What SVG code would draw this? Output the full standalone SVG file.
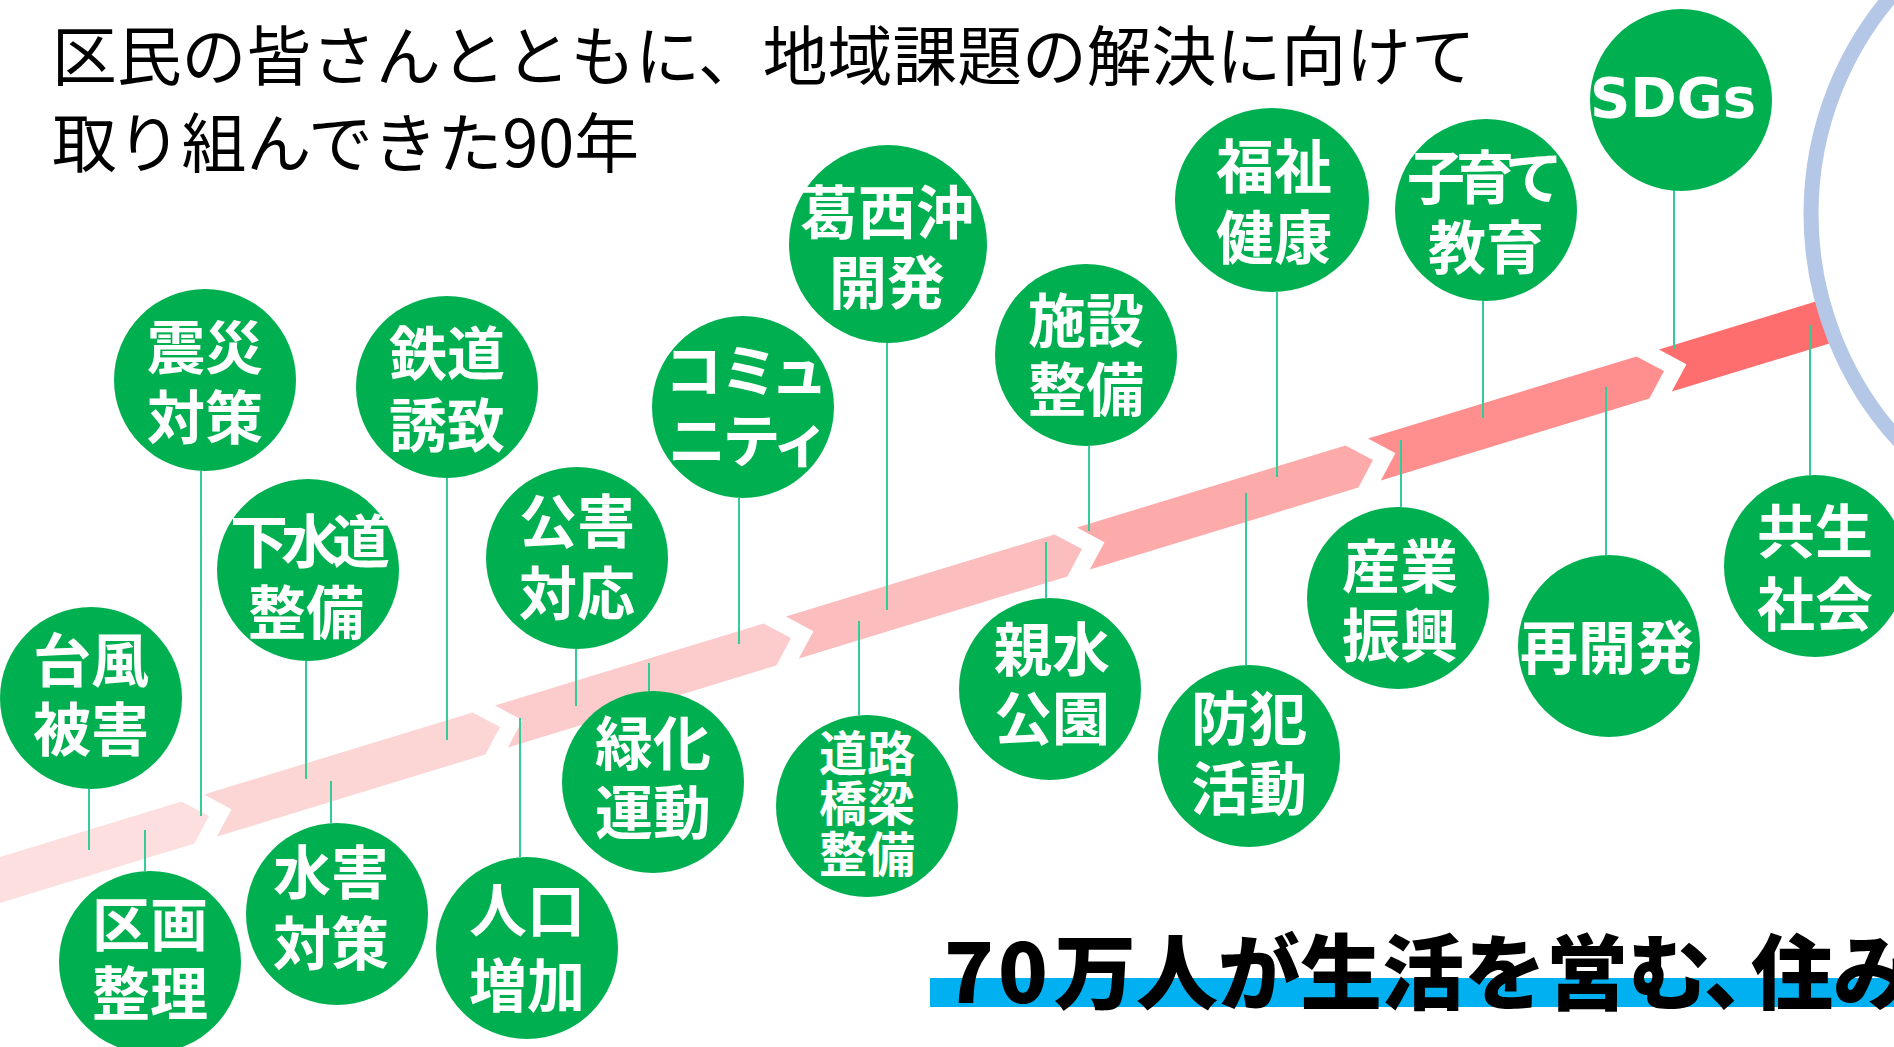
<svg xmlns="http://www.w3.org/2000/svg" width="1894" height="1047" viewBox="0 0 1894 1047">
<style>
.title{font-family:"Noto Sans CJK JP","Noto Sans CJK SC",sans-serif;font-size:64.8px;font-weight:400;fill:#000}
.node circle,.node ellipse{fill:#00B050}
.lbl{font-family:"Noto Sans CJK JP","Noto Sans CJK SC",sans-serif;font-size:58px;font-weight:700;fill:#fff;text-anchor:middle}
.lbl3{font-size:48px}
.lat{font-family:"DejaVu Sans","Verdana",sans-serif;font-size:56px;font-weight:700;fill:#fff;text-anchor:middle}
.con line{stroke:#33CC99;stroke-width:2}
.big{font-family:"Noto Sans CJK JP","Noto Sans CJK SC",sans-serif;font-size:82px;font-weight:900;fill:#000}
</style>
<rect width="1894" height="1047" fill="#fff"/>
<g id="timeline-arrow" transform="translate(209 816) rotate(-17.006)">
<polygon fill="#FDDFDF" points="-260,-22 -22,-22 0,0 -22,22 -260,22"/>
<polygon fill="#FCD5D5" points="1.5,-22 282.3,-22 304.3,0 282.3,22 1.5,22 23.5,0"/>
<polygon fill="#FCCCCC" points="305.8,-22 586.6,-22 608.6,0 586.6,22 305.8,22 327.8,0"/>
<polygon fill="#FBBDBD" points="610.1,-22 890.9,-22 912.9,0 890.9,22 610.1,22 632.1,0"/>
<polygon fill="#FDAAAA" points="914.4,-22 1195.2,-22 1217.2,0 1195.2,22 914.4,22 936.4,0"/>
<polygon fill="#FF8F8F" points="1218.7,-22 1499.5,-22 1521.5,0 1499.5,22 1218.7,22 1240.7,0"/>
<polygon fill="#FF6E6E" points="1523,-22 1760,-22 1760,22 1523,22 1545,0"/>
</g>
<g id="goal-circle"><circle cx="2147" cy="214" r="336" fill="#fff" stroke="#B4C7E7" stroke-width="15"/></g>
<g id="connectors" class="con">
<line x1="89" y1="789" x2="89" y2="850"/>
<line x1="145" y1="830" x2="145" y2="871"/>
<line x1="201" y1="471" x2="201" y2="816"/>
<line x1="306" y1="661" x2="306" y2="779"/>
<line x1="331" y1="781" x2="331" y2="823"/>
<line x1="447" y1="478" x2="447" y2="740"/>
<line x1="520" y1="718" x2="520" y2="857"/>
<line x1="576" y1="649" x2="576" y2="706"/>
<line x1="649" y1="663" x2="649" y2="692"/>
<line x1="739" y1="498" x2="739" y2="644"/>
<line x1="887" y1="343" x2="887" y2="610"/>
<line x1="859" y1="621" x2="859" y2="715"/>
<line x1="1089" y1="446" x2="1089" y2="531"/>
<line x1="1046" y1="542" x2="1046" y2="598"/>
<line x1="1277" y1="292" x2="1277" y2="477"/>
<line x1="1246" y1="493" x2="1246" y2="665"/>
<line x1="1483" y1="300" x2="1483" y2="418"/>
<line x1="1401" y1="440" x2="1401" y2="507"/>
<line x1="1674" y1="190" x2="1674" y2="349"/>
<line x1="1606" y1="387" x2="1606" y2="555"/>
<line x1="1810" y1="325" x2="1810" y2="475"/>
</g>
<g id="n-taifu" class="node"><circle cx="91" cy="698" r="91"/><text class="lbl"><tspan x="91" y="682">台風</tspan><tspan x="91" y="751">被害</tspan></text></g>
<g id="n-kukaku" class="node"><circle cx="150" cy="962" r="91"/><text class="lbl"><tspan x="150" y="946">区画</tspan><tspan x="150" y="1015">整理</tspan></text></g>
<g id="n-shinsai" class="node"><circle cx="205" cy="380" r="91"/><text class="lbl"><tspan x="205" y="369">震災</tspan><tspan x="205" y="439">対策</tspan></text></g>
<g id="n-gesuido" class="node"><circle cx="308" cy="570" r="91"/><text class="lbl"><tspan x="310" y="563" textLength="160" lengthAdjust="spacing">下水道</tspan><tspan x="306" y="634">整備</tspan></text></g>
<g id="n-suigai" class="node"><circle cx="337" cy="914" r="91"/><text class="lbl"><tspan x="331" y="894">水害</tspan><tspan x="331" y="965">対策</tspan></text></g>
<g id="n-tetsudo" class="node"><circle cx="447" cy="387" r="91"/><text class="lbl"><tspan x="447" y="375">鉄道</tspan><tspan x="447" y="447">誘致</tspan></text></g>
<g id="n-jinko" class="node"><circle cx="527" cy="948" r="91"/><text class="lbl"><tspan x="527" y="932">人口</tspan><tspan x="527" y="1007">増加</tspan></text></g>
<g id="n-kogai" class="node"><circle cx="577" cy="558" r="91"/><text class="lbl"><tspan x="577" y="543">公害</tspan><tspan x="577" y="615">対応</tspan></text></g>
<g id="n-ryokuka" class="node"><circle cx="653" cy="782" r="91"/><text class="lbl"><tspan x="653" y="765">緑化</tspan><tspan x="653" y="834">運動</tspan></text></g>
<g id="n-community" class="node"><circle cx="743" cy="407" r="91"/><text class="lbl" style="font-feature-settings:'palt'"><tspan x="745" y="392">コミュ</tspan><tspan x="745" y="462">ニティ</tspan></text></g>
<g id="n-kasaioki" class="node"><circle cx="888" cy="244" r="99"/><text class="lbl"><tspan x="887" y="234">葛西沖</tspan><tspan x="887" y="304">開発</tspan></text></g>
<g id="n-doro" class="node"><circle cx="867" cy="806" r="91"/><text class="lbl lbl3"><tspan x="867" y="771">道路</tspan><tspan x="867" y="821">橋梁</tspan><tspan x="867" y="872">整備</tspan></text></g>
<g id="n-shisetsu" class="node"><circle cx="1086" cy="355" r="91"/><text class="lbl"><tspan x="1086" y="342">施設</tspan><tspan x="1086" y="411">整備</tspan></text></g>
<g id="n-shinsui" class="node"><circle cx="1050" cy="689" r="91"/><text class="lbl"><tspan x="1052" y="671">親水</tspan><tspan x="1052" y="740">公園</tspan></text></g>
<g id="n-fukushi" class="node"><ellipse cx="1272" cy="200" rx="97" ry="92"/><text class="lbl"><tspan x="1274" y="188">福祉</tspan><tspan x="1274" y="259">健康</tspan></text></g>
<g id="n-bohan" class="node"><circle cx="1249" cy="756" r="91"/><text class="lbl"><tspan x="1249" y="740">防犯</tspan><tspan x="1249" y="810">活動</tspan></text></g>
<g id="n-kosodate" class="node"><circle cx="1486" cy="210" r="91"/><text class="lbl"><tspan x="1485" y="199" textLength="156" lengthAdjust="spacing">子育て</tspan><tspan x="1486" y="269">教育</tspan></text></g>
<g id="n-sangyo" class="node"><circle cx="1398" cy="598" r="91"/><text class="lbl"><tspan x="1400" y="588">産業</tspan><tspan x="1400" y="657">振興</tspan></text></g>
<g id="n-sdgs" class="node"><circle cx="1681" cy="100" r="91"/><text class="lat" x="1673" y="117">SDGs</text></g>
<g id="n-saikaihatsu" class="node"><circle cx="1609" cy="646" r="91"/><text class="lbl" x="1607" y="669">再開発</text></g>
<g id="n-kyosei" class="node"><circle cx="1815" cy="566" r="91"/><text class="lbl"><tspan x="1815" y="553">共生</tspan><tspan x="1815" y="626">社会</tspan></text></g>
<g id="tagline">
<rect x="930" y="978" width="964" height="29" fill="#00B0F0"/>
<text class="big" y="1003"><tspan x="944">7</tspan><tspan x="998">0</tspan><tspan x="1054">万人が生活を営む</tspan><tspan x="1704" style="font-feature-settings:'palt'">、</tspan><tspan x="1751">住み</tspan></text>
</g>
<g id="title">
<text class="title"><tspan x="52" y="80">区民の皆さんとともに、地域課題の解決に向けて</tspan><tspan x="52" y="167">取り組んできた90年</tspan></text>
</g>
</svg>
